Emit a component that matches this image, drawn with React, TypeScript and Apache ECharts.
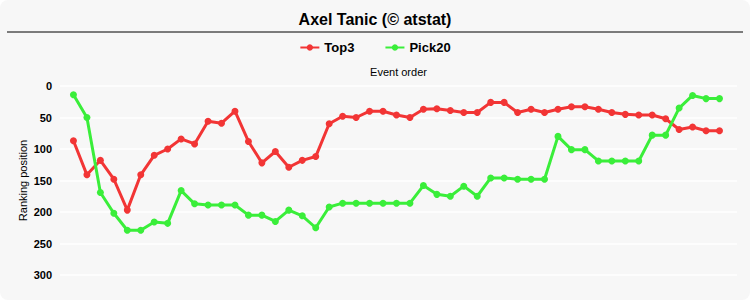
import React, { useEffect, useRef } from "react";
import * as echarts from "echarts";

const titleText = "Axel Tanic (© atstat)";
const seriesNames = ["Top3", "Pick20"];
const top3 = [87, 141, 118, 148, 197, 141, 110, 100, 84, 92, 56, 59, 40, 88, 122, 104, 129, 118, 112, 60, 48, 50, 40, 40, 46, 50, 37, 36, 39, 42, 42, 26, 26, 42, 37, 42, 37, 33, 33, 37, 42, 45, 46, 46, 52, 69, 65, 71, 71];
const pick20 = [14, 50, 169, 202, 229, 229, 216, 218, 166, 187, 189, 189, 189, 205, 205, 215, 197, 206, 225, 192, 186, 186, 186, 186, 186, 186, 158, 172, 175, 159, 175, 146, 146, 148, 148, 148, 80, 101, 101, 119, 119, 119, 119, 78, 78, 35, 15, 20, 20];
const yTicks = [0, 50, 100, 150, 200, 250, 300];

const FONT = "'Liberation Sans', Arial, sans-serif";

export default function App() {
  const ref = useRef<HTMLDivElement>(null);
  useEffect(() => {
    if (!ref.current) return;
    const chart = echarts.init(ref.current, undefined, { renderer: "svg" });
    const toPairs = (arr: number[]) => arr.map((v, i) => [i + 1, v]);
    chart.setOption({
      animation: false,
      backgroundColor: "#ffffff",
      textStyle: { fontFamily: FONT },
      graphic: [
        {
          type: "rect",
          z: -10,
          shape: { x: 0, y: 0, width: 750, height: 300, r: 8 },
          style: { fill: "#f7f7f7" },
          silent: true,
        },
        {
          type: "line",
          shape: { x1: 7, y1: 32, x2: 743, y2: 32 },
          style: { stroke: "#000", lineWidth: 1 },
          silent: true,
        },
      ],
      title: {
        text: titleText,
        left: "center",
        top: 6,
        textStyle: { fontFamily: FONT, fontSize: 16, fontWeight: "bold", color: "#000" },
      },
      legend: {
        top: 36,
        left: "center",
        itemGap: 30,
        itemWidth: 19,
        itemHeight: 8,
        data: seriesNames,
        textStyle: { fontFamily: FONT, fontSize: 13, fontWeight: "bold", color: "#000" },
      },
      grid: { left: 60, right: 13, top: 86, bottom: 25 },
      xAxis: {
        type: "value",
        min: 0,
        max: 50.3,
        position: "top",
        name: "Event order",
        nameLocation: "middle",
        nameGap: 9,
        nameMoveOverlap: false,
        nameTextStyle: { fontFamily: FONT, fontSize: 11, color: "#000" },
        axisLine: { show: false },
        axisTick: { show: false },
        axisLabel: { show: false },
        splitLine: { show: false },
      },
      yAxis: {
        type: "value",
        inverse: true,
        min: yTicks[0],
        max: yTicks[yTicks.length - 1],
        interval: 50,
        name: "Ranking position",
        nameLocation: "middle",
        nameGap: 32,
        nameMoveOverlap: false,
        nameTextStyle: { fontFamily: FONT, fontSize: 11, color: "#000" },
        axisLine: { show: false },
        axisTick: { show: false },
        axisLabel: { fontFamily: FONT, fontSize: 11, fontWeight: "bold", color: "#000", margin: 8 },
        splitLine: { lineStyle: { color: "#ffffff", width: 1.5 } },
      },
      series: [
        {
          name: seriesNames[0],
          type: "line",
          data: toPairs(top3),
          color: "#f23535",
          symbol: "circle",
          symbolSize: 7,
          lineStyle: { width: 3 },
        },
        {
          name: seriesNames[1],
          type: "line",
          data: toPairs(pick20),
          color: "#3aee3a",
          symbol: "circle",
          symbolSize: 7,
          lineStyle: { width: 3 },
        },
      ],
    });
    return () => chart.dispose();
  }, []);
  return (
    <div style={{ position: "fixed", left: 0, top: 0 }}>
      <div ref={ref} style={{ width: 750, height: 300 }} />
    </div>
  );
}
